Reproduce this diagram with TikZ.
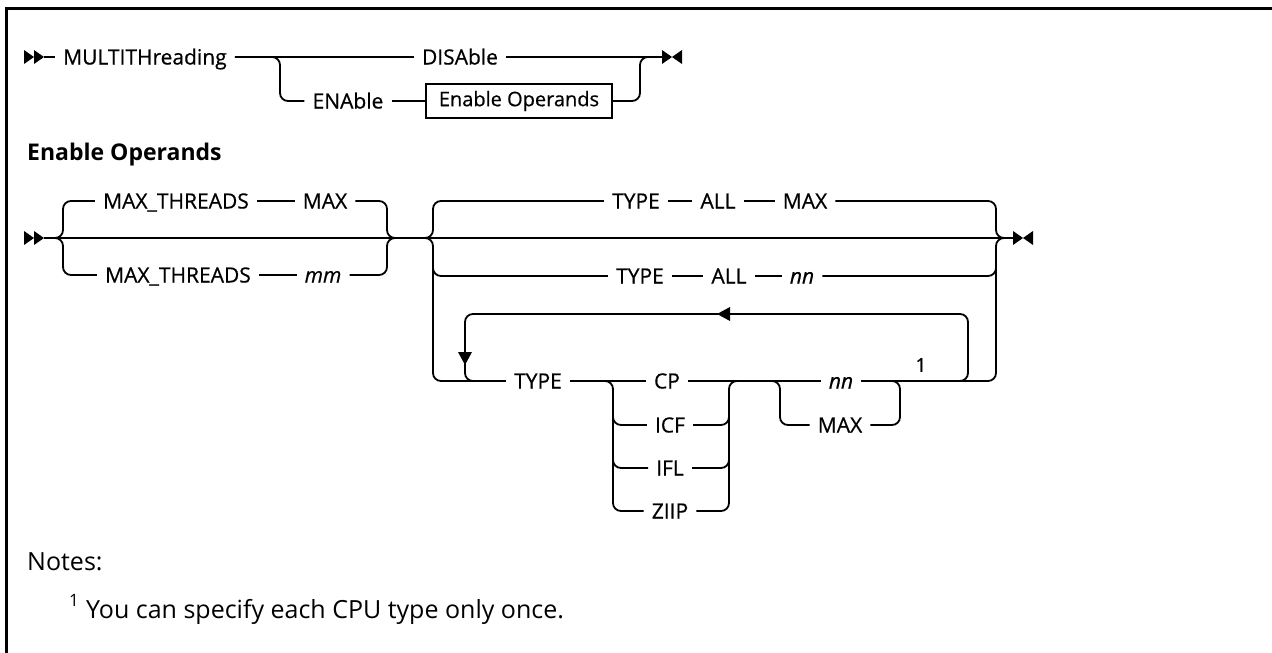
\documentclass[tikz,border=0pt]{standalone}
\usepackage{fontspec}
\setmainfont{Open Sans}
\newfontfamily\kwfont{Open Sans}[FakeBold=0.6]
\begin{document}
\begin{tikzpicture}[x=1pt,y=-1pt,
  rail/.style={line width=1.8pt, rounded corners=8pt},
  kw/.style={font=\kwfont\fontsize{21}{25}\selectfont, inner xsep=8pt, inner ysep=0pt, text height=15pt, text depth=0pt},
  kwi/.style={kw, font=\kwfont\fontsize{21}{25}\selectfont\itshape},
  refbox/.style={draw, line width=1.5pt, font=\kwfont\fontsize{20}{24}\selectfont, minimum width=186pt, minimum height=34pt, inner sep=0pt},
  tip/.style={fill=black},
  frame/.style={line width=3pt},
  note/.style={font=\fontsize{25}{30}\selectfont, inner sep=0pt, anchor=base west}
]
\useasboundingbox (0,0) rectangle (1272,653);
\draw[frame] (6,653) -- (6,8) -- (1272,8);

% ---------- row 1
\fill[tip] (24,50) -- (34,57) -- (24,64) -- cycle;
\fill[tip] (34,50) -- (44,57) -- (34,64) -- cycle;
\coordinate (s1) at (44,57);
\node[kw,anchor=west] (mt) at (55,57) {MULTITHreading};
\node[kw] (dis) at (460,57) {DISAble};
\node[kw] (ena) at (348,101) {ENAble};
\node[refbox] (eo) at (519,101) {Enable Operands};
\coordinate (t1) at (662,57);
\draw[rail] (s1) -- (mt.west);
\draw[rail] (mt.east) -- (dis.west);
\draw[rail] (dis.east) -- (t1);
\draw[rail] (mt.east) -| (280,80) |- (ena.west);
\draw[rail] (ena.east) -- (eo.west);
\draw[rail] (eo.east) -| (640,80) |- (t1);
\fill[tip] (662,50) -- (672,57) -- (662,64) -- cycle;
\fill[tip] (682,50) -- (672,57) -- (682,64) -- cycle;

% ---------- heading
\node[note, font=\fontsize{23}{28}\selectfont\bfseries] (hd) at (27,160) {Enable Operands};

% ---------- row 2
\fill[tip] (24,231) -- (34,238) -- (24,245) -- cycle;
\fill[tip] (34,231) -- (44,238) -- (34,245) -- cycle;
\coordinate (s2) at (44,238);
\coordinate (r1) at (395,238);
\coordinate (r2) at (1004,238);
\coordinate (t2) at (1013,238);
\node[kw] (mta) at (176,201) {MAX\_THREADS};
\node[kw] (mxa) at (325,201) {MAX};
\node[kw] (mtb) at (178,275) {MAX\_THREADS};
\node[kwi] (mm) at (323,275) {mm};
\draw[rail] (s2) -- (r1) -- (r2) -- (t2);
\draw[rail] (s2) -| (63,220) |- (mta.west);
\draw[rail] (mta.east) -- (mxa.west);
\draw[rail] (mxa.east) -| (387,220) |- (r1);
\draw[rail] (s2) -| (63,255) |- (mtb.west);
\draw[rail] (mtb.east) -- (mm.west);
\draw[rail] (mm.east) -| (387,255) |- (r1);

% TYPE group, first two rows
\node[kw] (ta1) at (636,201) {TYPE};
\node[kw] (tb1) at (718,201) {ALL};
\node[kw] (tc1) at (805,201) {MAX};
\node[kw] (ta2) at (640,276) {TYPE};
\node[kw] (tb2) at (729,276) {ALL};
\node[kwi] (tc2) at (802,276) {nn};
\draw[rail] (r1) -| (433,220) |- (ta1.west);
\draw[rail] (ta1.east) -- (tb1.west);
\draw[rail] (tb1.east) -- (tc1.west);
\draw[rail] (tc1.east) -| (996,220) |- (r2);
\draw[rail] (433,255) |- (ta2.west);
\draw[rail] (ta2.east) -- (tb2.west);
\draw[rail] (tb2.east) -- (tc2.west);
\draw[rail] (tc2.east) -| (996,255);

% TYPE group, repeat row
\node[kw] (ty) at (538,381) {TYPE};
\node[kw] (cp) at (667,381) {CP};
\node[kw] (icf) at (670,425) {ICF};
\node[kw] (ifl) at (670,468) {IFL};
\node[kw] (ziip) at (670,511) {ZIIP};
\node[kwi] (nn) at (841,381) {nn};
\node[kw] (mxc) at (840,425) {MAX};
\node[font=\kwfont\fontsize{19}{22}\selectfont, inner sep=0pt] (fnref) at (921,365) {1};
\draw[rail] (r1) -| (433,300) |- (ty.west);
\draw[rail] (ty.east) -- (cp.west);
\draw[rail] (cp.east) -- (nn.west);
\draw[rail] (nn.east) -| (996,300) |- (r2);
% CP group
\draw[rail] (ty.east) -| (613,400) |- (ziip.west);
\draw[rail] (613,400) |- (icf.west);
\draw[rail] (613,440) |- (ifl.west);
\draw[rail] (icf.east) -| (729,400);
\draw[rail] (ifl.east) -| (729,440);
\draw[rail] (ziip.east) -| (729,400) |- (nn.west);
% nn / MAX
\draw[rail] (cp.east) -| (780,400) |- (mxc.west);
\draw[rail] (mxc.east) -| (900,400) |- (nn.east);
% loop
\coordinate (lpa) at (724,314);
\draw[rail] (nn.east) -| (968,340) |- (lpa);
\draw[rail] (lpa) -| (465,350) |- (ty.west);
\fill[tip] (717,314) -- (730,307) -- (730,321) -- cycle;
\fill[tip] (465,365) -- (458,352) -- (472,352) -- cycle;
\fill[tip] (1013,231) -- (1023,238) -- (1013,245) -- cycle;
\fill[tip] (1033,231) -- (1023,238) -- (1033,245) -- cycle;

% ---------- notes
\node[note] (notes) at (27,570) {Notes:};
\node[note, font=\fontsize{17}{20}\selectfont] (fn1) at (69,606) {1};
\node[note] (fn) at (86,618) {You can specify each CPU type only once.};
\end{tikzpicture}
\end{document}
